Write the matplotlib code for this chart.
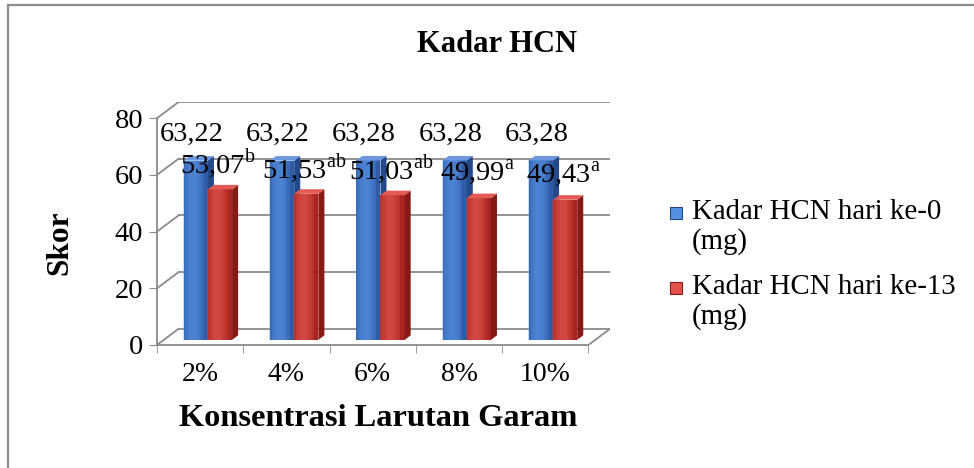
import matplotlib
matplotlib.use("Agg")
import matplotlib.pyplot as plt
from matplotlib.lines import Line2D
from matplotlib.patches import Rectangle

plt.rcParams["font.family"] = ["Liberation Serif", "DejaVu Serif"]
plt.rcParams["mathtext.fontset"] = "custom"
plt.rcParams["mathtext.rm"] = "Liberation Serif"

categories = ["2%", "4%", "6%", "8%", "10%"]
hari_0 = [63.22, 63.22, 63.28, 63.28, 63.28]
hari_13 = [53.07, 51.53, 51.03, 49.99, 49.43]
label_0 = ["63,22", "63,22", "63,28", "63,28", "63,28"]
label_13 = ["53,07", "51,53", "51,03", "49,99", "49,43"]
notasi_13 = ["b", "ab", "ab", "a", "a"]
series_names = ["Kadar HCN hari ke-0\n(mg)", "Kadar HCN hari ke-13\n(mg)"]
yticks = [0, 20, 40, 60, 80]

# pseudo 3d depth offset (data units)
DX, DY = 0.25, 5.7
BASE = 1.8          # bars stand half way into the floor
SX, SY = 0.07, 1.6  # bar side/top depth
W = 0.28

blue = dict(front="#2f5ca8", light="#5590e0", side="#24498a", top="#6b98de")
red = dict(front="#a82522", light="#e0524b", side="#861a17", top="#e25a52")
grid_c = "#8a8a8a"

fig = plt.figure(figsize=(9.74, 4.68), dpi=100)
ax = fig.add_axes([157 / 974, 123 / 468, 453 / 974, 243 / 468])
ax.set_xlim(-0.5, 4.5 + DX)
ax.set_ylim(0, 80 + DY)

# back wall gridlines and left diagonals
for v in yticks:
    ax.plot([-0.5 + DX, 4.5 + DX], [v + DY, v + DY], color=grid_c, lw=1.3, zorder=1)
    ax.plot([-0.5, -0.5 + DX], [v, v + DY], color=grid_c, lw=1.3, zorder=1)
# floor right edge
ax.plot([4.5, 4.5 + DX], [0, DY], color=grid_c, lw=1.3, zorder=1)


def draw_bars(xs, vals, col):
    ax.bar(xs, vals, width=W, bottom=BASE, color=col["front"], zorder=3, linewidth=0)
    # layered highlight so the front face looks rounded
    for frac in [0.85, 0.65, 0.45, 0.25]:
        ax.bar([x - 0.03 for x in xs], vals, width=W * frac, bottom=BASE,
               color=col["light"], alpha=0.3, zorder=3, linewidth=0)
    for x, v in zip(xs, vals):
        r = x + W / 2
        l = x - W / 2
        top = BASE + v
        ax.fill([r, r + SX, r + SX, r], [BASE, BASE + SY, top + SY, top],
                color=col["side"], zorder=3, lw=0)
        ax.fill([l, l + SX, r + SX, r], [top, top + SY, top + SY, top],
                color=col["top"], zorder=3, lw=0)


x0 = [i - 0.05 for i in range(len(categories))]
x13 = [i + 0.23 for i in range(len(categories))]
draw_bars(x0, hari_0, blue)
draw_bars(x13, hari_13, red)

for x, v, t in zip(x0, hari_0, label_0):
    ax.text(x - 0.05, v + BASE + 9.2, t, ha="center", va="center", fontsize=20.5, zorder=5)
for x, v, t, n in zip(x13, hari_13, label_13, notasi_13):
    ax.text(x - 0.02, v + BASE + 9.0, t + r"$^{\mathrm{" + n + "}}$",
            ha="center", va="center", fontsize=20.5, zorder=5)

# axes
for s in ["top", "right"]:
    ax.spines[s].set_visible(False)
ax.spines["left"].set_bounds(0, 80)
ax.spines["bottom"].set_bounds(-0.5, 4.5)
for s in ["left", "bottom"]:
    ax.spines[s].set_color(grid_c)
    ax.spines[s].set_linewidth(1.3)
ax.set_yticks(yticks)
ax.set_yticklabels([str(v) for v in yticks], fontsize=20.5)
ax.tick_params(axis="y", length=6, color=grid_c, pad=4)
ax.set_xticks(range(len(categories)))
ax.set_xticklabels(categories, fontsize=20)
ax.tick_params(axis="x", which="major", length=0, pad=12)
ax.set_xticks([i - 0.5 for i in range(len(categories) + 1)], minor=True)
ax.tick_params(axis="x", which="minor", length=6, color=grid_c)
ax.patch.set_alpha(0)

fig.text(497 / 974, 1 - 45 / 468, "Kadar HCN", ha="center", va="center",
         fontsize=22, fontweight="bold")
fig.text(378 / 974, 1 - 418 / 468, "Konsentrasi Larutan Garam", ha="center",
         va="center", fontsize=23.3, fontweight="bold")
fig.text(60 / 974, 1 - 243 / 468, "Skor", ha="center", va="center",
         fontsize=22.5, fontweight="bold", rotation=90)

# legend
for name, col, yy in zip(series_names, [blue, red], [213, 288]):
    fig.add_artist(Rectangle((670 / 974, 1 - (yy + 6) / 468), 12 / 974, 12 / 468,
                             transform=fig.transFigure, facecolor=col["light"],
                             edgecolor=col["side"], lw=0.8))
    fig.text(692 / 974, 1 - (yy - 14) / 468, name, ha="left", va="top",
             fontsize=20.8, linespacing=1.15)

# chart border
fig.add_artist(Line2D([8 / 974, 8 / 974], [0, 1 - 5 / 468], transform=fig.transFigure,
                      color="#8c8c8c", lw=1.6))
fig.add_artist(Line2D([8 / 974, 1], [1 - 5 / 468, 1 - 5 / 468], transform=fig.transFigure,
                      color="#8c8c8c", lw=1.6))

fig.savefig("out.png", dpi=100)
